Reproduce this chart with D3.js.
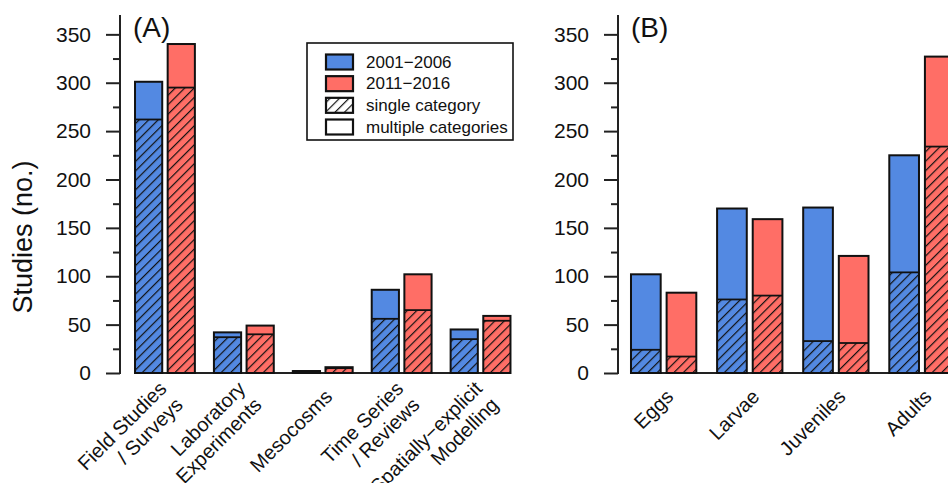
<!DOCTYPE html>
<html>
<head>
<meta charset="utf-8">
<script src="https://cdn.jsdelivr.net/npm/d3@7"></script>
<style>
  body { margin:0; background:#fff; }
  text { font-family: "Liberation Sans", Arial, sans-serif; fill:#111; }
</style>
</head>
<body>
<svg id="chart" width="948" height="483"></svg>
<script>
// data
var periods = ["2001\u22122006", "2011\u22122016"];
var periodColors = ["#5389E2", "#FF6E66"];

var catsA = [["Field Studies", "/ Surveys"], ["Laboratory", "Experiments"], ["Mesocosms"],
             ["Time Series", "/ Reviews"], ["Spatially\u2212explicit", "Modelling"]];
var totalA01 = [301, 42, 2, 86, 45];
var singleA01 = [262, 37, 2, 56, 35];
var totalA11 = [340, 49, 6, 102, 59];
var singleA11 = [295, 40, 5, 65, 54];

var catsB = [["Eggs"], ["Larvae"], ["Juveniles"], ["Adults"]];
var totalB01 = [102, 170, 171, 225];
var singleB01 = [24, 76, 33, 104];
var totalB11 = [83, 159, 121, 327];
var singleB11 = [17, 80, 31, 234];

var yTicks = [0, 50, 100, 150, 200, 250, 300, 350];
var yMinor = [25, 75, 125, 175, 225, 275, 325];
var legendItems = ["2001\u22122006", "2011\u22122016", "single category", "multiple categories"];

var svg = d3.select("#chart");

var defs = svg.append("defs");
defs.append("pattern").attr("id", "hatch")
  .attr("patternUnits", "userSpaceOnUse")
  .attr("width", 6.7).attr("height", 6.7)
  .attr("patternTransform", "rotate(45)")
  .append("line")
  .attr("x1", 0).attr("y1", 0).attr("x2", 0).attr("y2", 6.7)
  .attr("stroke", "#111").attr("stroke-width", 2.4);

var y = d3.scaleLinear().domain([0, 370]).range([373, 15]);

function panel(opt){
  var g = svg.append("g");
  var names = opt.cats.map(function(d){ return d.join(" "); });
  var nGroups = opt.cats.length;
  var x0 = d3.scaleBand().domain(names)
    .range([opt.r0, opt.r0 + nGroups*opt.step])
    .paddingInner(0.7/2.9).paddingOuter(0.7/2.9/2);
  var x1 = d3.scaleBand().domain(periods).range([0, x0.bandwidth()]).paddingInner(1/6);

  // baseline under the bars
  g.append("line")
    .attr("x1", x0(names[0])).attr("x2", x0(names[nGroups-1]) + x0.bandwidth())
    .attr("y1", y(0)).attr("y2", y(0))
    .attr("stroke", "#222").attr("stroke-width", 2);

  var rows = [];
  names.forEach(function(n, k){
    rows.push({cat:n, p:0, total:opt.total[0][k], single:opt.single[0][k]});
    rows.push({cat:n, p:1, total:opt.total[1][k], single:opt.single[1][k]});
  });

  var bars = g.selectAll("g.bar").data(rows).enter().append("g").attr("class", "bar")
    .attr("transform", function(d){ return "translate(" + (x0(d.cat) + x1(periods[d.p])) + ",0)"; });
  bars.append("rect")
    .attr("x", 0).attr("width", x1.bandwidth())
    .attr("y", function(d){ return y(d.total); })
    .attr("height", function(d){ return y(0) - y(d.total); })
    .attr("fill", function(d){ return periodColors[d.p]; });
  bars.append("rect")
    .attr("x", 0).attr("width", x1.bandwidth())
    .attr("y", function(d){ return y(d.single); })
    .attr("height", function(d){ return y(0) - y(d.single); })
    .attr("fill", "url(#hatch)");
  bars.append("line")
    .attr("x1", 0).attr("x2", x1.bandwidth())
    .attr("y1", function(d){ return y(d.single); }).attr("y2", function(d){ return y(d.single); })
    .attr("stroke", "#111").attr("stroke-width", 1.8);
  bars.append("rect")
    .attr("x", 0).attr("width", x1.bandwidth())
    .attr("y", function(d){ return y(d.total); })
    .attr("height", function(d){ return y(0) - y(d.total); })
    .attr("fill", "none").attr("stroke", "#111").attr("stroke-width", 2);

  // y axis
  var ax = g.append("g").attr("transform", "translate(" + opt.axisX + ",0)");
  ax.call(d3.axisLeft(y).tickValues(yTicks).tickSize(14).tickPadding(15));
  ax.append("g").call(d3.axisLeft(y).tickValues(yMinor).tickSize(7).tickFormat(""));
  ax.selectAll(".domain").remove();
  ax.selectAll(".tick line").attr("stroke", "#222").attr("stroke-width", 2);
  ax.selectAll(".tick text").attr("font-size", 21).attr("fill", "#111")
    .style("font-family", "'Liberation Sans', Arial, sans-serif");
  ax.append("line").attr("x1", 0).attr("x2", 0)
    .attr("y1", y(370)).attr("y2", y(0) + 1)
    .attr("stroke", "#222").attr("stroke-width", 2);

  // rotated category labels
  var lab = g.selectAll("g.lab").data(opt.cats).enter().append("g").attr("class", "lab")
    .attr("transform", function(d, k){
      return "translate(" + (x0(names[k]) + x0.bandwidth()/2 + 6) + "," + 393 + ") rotate(-45)";
    });
  lab.selectAll("text").data(function(d){ return d.map(function(s, i){ return {s:s, i:i, n:d.length}; }); })
    .enter().append("text")
    .attr("text-anchor", "end").attr("dominant-baseline", "central")
    .attr("font-size", 20)
    .attr("y", function(d){ return (d.i - (d.n-1)/2)*23; })
    .text(function(d){ return d.s; });

  g.append("text").attr("x", opt.axisX + 13).attr("y", 37)
    .attr("font-size", 28).text(opt.title);
  return g;
}

panel({cats:catsA, total:[totalA01, totalA11], single:[singleA01, singleA11],
  r0:125.5, step:78.9, axisX:120, title:"(A)"});
panel({cats:catsB, total:[totalB01, totalB11], single:[singleB01, singleB11],
  r0:620.6, step:86.1, axisX:618, title:"(B)"});

// y axis title
svg.append("text").attr("transform", "translate(32,237) rotate(-90)")
  .attr("text-anchor", "middle").attr("font-size", 27).text("Studies (no.)");

// legend
var leg = svg.append("g");
leg.append("rect").attr("x", 307).attr("y", 43).attr("width", 206).attr("height", 97)
  .attr("fill", "#fff").attr("stroke", "#111").attr("stroke-width", 1.6);
var legY = d3.scalePoint().domain(legendItems).range([62, 127]);
var li = leg.selectAll("g.li").data(legendItems).enter().append("g").attr("class", "li")
  .attr("transform", function(d){ return "translate(0," + legY(d) + ")"; });
li.append("rect").attr("x", 326).attr("y", -7.5).attr("width", 27).attr("height", 15)
  .attr("fill", function(d, i){ return i < 2 ? periodColors[i] : "#fff"; })
  .attr("stroke", "none");
li.filter(function(d, i){ return i == 2; }).append("rect")
  .attr("x", 326).attr("y", -7.5).attr("width", 27).attr("height", 15)
  .attr("fill", "url(#hatch)");
li.append("rect").attr("x", 326).attr("y", -7.5).attr("width", 27).attr("height", 15)
  .attr("fill", "none").attr("stroke", "#111").attr("stroke-width", 2.2);
li.append("text").attr("x", 366).attr("dominant-baseline", "central")
  .attr("font-size", 17).text(function(d){ return d; });
</script>
</body>
</html>
